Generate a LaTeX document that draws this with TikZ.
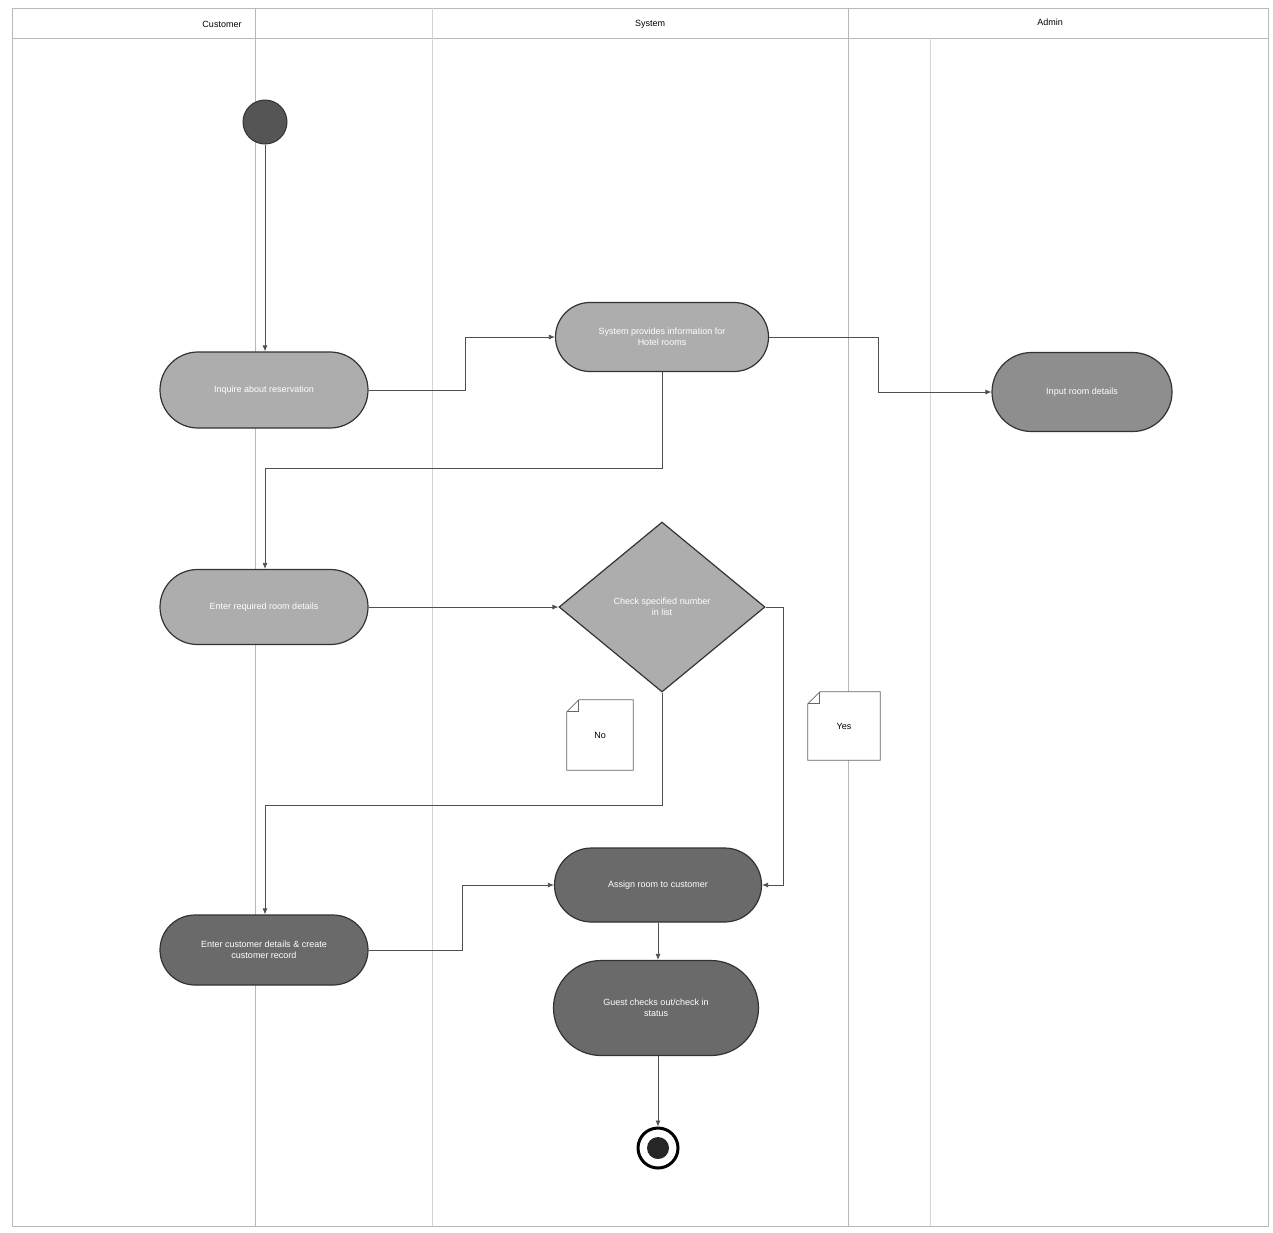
\documentclass[tikz,border=0pt]{standalone}
\usepackage{fontspec}
\setmainfont{Liberation Sans}
\usetikzlibrary{shapes.misc,shapes.geometric,arrows.meta}
\definecolor{lightact}{HTML}{ADADAD}
\definecolor{midact}{HTML}{8E8E8E}
\definecolor{darkact}{HTML}{6A6A6A}
\definecolor{laneline}{HTML}{B8B8B8}
\definecolor{connline}{HTML}{505050}
\tikzset{
  lane/.style={draw=laneline, line width=0.7pt},
  faintlane/.style={draw=laneline!60, line width=0.6pt},
  act/.style={rounded rectangle, draw=black!80, line width=1.2pt, text=white,
    font=\fontsize{9}{11}\selectfont, align=center, minimum height=74pt, inner xsep=8pt},
  conn/.style={draw=connline, line width=0.8pt, -{Latex[length=6pt,width=5pt]}},
  lanelabel/.style={font=\fontsize{9}{11}\selectfont, text=black},
  notebox/.style={minimum width=66pt, minimum height=70pt, inner sep=0pt},
  notelabel/.style={font=\fontsize{9}{11}\selectfont},
  noteline/.style={draw=black!60, line width=0.8pt},
}
\begin{document}
\begin{tikzpicture}[x=1pt,y=-1pt]
\useasboundingbox (0,0) rectangle (1273,1232);
% swimlane frame
\draw[lane] (12,8) rectangle (1268,1226);
\draw[lane] (12,38) -- (1268,38);
\draw[lane] (255,8) -- (255,1226);
\draw[lane] (848,8) -- (848,1226);
\draw[faintlane] (432,8) -- (432,1226);
\draw[faintlane] (930,38) -- (930,1226);
\node[lanelabel] (lcust) at (222,24) {Customer};
\node[lanelabel] (lsys) at (650,24) {System};
\node[lanelabel] (ladm) at (1050,22) {Admin};

% start / end
\node[circle, fill=darkact!80!black, draw=black!80, line width=1pt, minimum size=44pt, inner sep=0pt] (start) at (265,122) {};
\node[circle, draw=black, line width=3pt, minimum size=40pt, inner sep=0pt] (endo) at (658,1148) {};
\node[circle, fill=black!85, minimum size=22pt, inner sep=0pt] (endi) at (658,1148) {};

% activities
\node[act, fill=lightact, minimum width=224pt, minimum height=76pt] (a1) at (264,390) {Inquire about reservation};
\node[act, fill=lightact, minimum width=229pt, minimum height=69pt] (a2) at (662,337) {System provides information for\\Hotel rooms};
\node[act, fill=midact, minimum width=196pt, minimum height=79pt] (a3) at (1082,392) {Input room details};
\node[act, fill=lightact, minimum width=224pt, minimum height=75pt] (a4) at (264,607) {Enter required room details};
\node[diamond, draw=black!80, line width=1.2pt, fill=lightact, minimum width=206pt, minimum height=170pt, inner sep=0pt] (dec) at (662,607) {};
\node[text=white, font=\fontsize{9}{11}\selectfont, align=center] (dectext) at (662,607) {Check specified number\\in list};
\node[act, fill=darkact, minimum width=223pt, minimum height=74pt] (a5) at (658,885) {Assign room to customer};
\node[act, fill=darkact, minimum width=224pt, minimum height=70pt] (a6) at (264,950) {Enter customer details \& create\\customer record};
\node[act, fill=darkact, minimum width=221pt, minimum height=95pt] (a7) at (656,1008) {Guest checks out/check in\\status};

% notes
\node[notebox] (nno) at (600,735) {};
\node[notebox, minimum width=72pt, minimum height=68pt] (nyes) at (844,726) {};
\foreach \n in {nno,nyes}{
  \draw[noteline, fill=white] ([yshift=-12pt]\n.north west) -- ([xshift=12pt]\n.north west) -- (\n.north east) -- (\n.south east) -- (\n.south west) -- cycle;
  \draw[noteline] ([yshift=-12pt]\n.north west) -- ([xshift=12pt,yshift=-12pt]\n.north west) -- ([xshift=12pt]\n.north west);
}
\node[notelabel] (nnolabel) at (nno) {No};
\node[notelabel] (nyeslabel) at (nyes) {Yes};

% connectors
\draw[conn] (start) -- (a1.north -| start);
\draw[conn] (a1.east) -- ++(97,0) |- (a2.west);
\draw[conn] (a2.east) -- ++(109,0) |- (a3.west);
\draw[conn] (a2.south) -- (a2.south |- 0,468) -| (a4.north -| start);
\draw[conn] (a4.east) -- (dec.west);
\draw[conn] (dec.south) -- (dec.south |- 0,805) -| (a6.north -| start);
\draw[conn] (dec.east) -- ++(18,0) |- (a5.east);
\draw[conn] (a6.east) -- ++(94,0) |- (a5.west);
\draw[conn] (a5.south) -- (a5.south |- a7.north);
\draw[conn] (a7.south -| endo) -- (endo.north);
\end{tikzpicture}
\end{document}
